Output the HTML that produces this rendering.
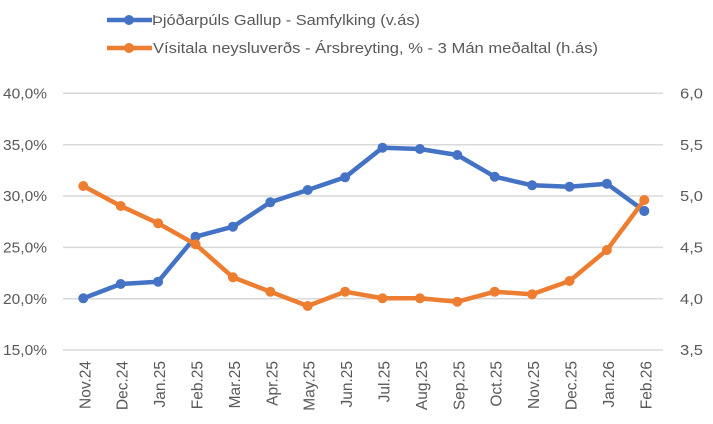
<!DOCTYPE html>
<html>
<head>
<meta charset="utf-8">
<style>
html,body{margin:0;padding:0;background:#fff;}
svg{display:block;}
text{font-family:"Liberation Sans",sans-serif;fill:#595959;}
</style>
</head>
<body>
<svg width="713" height="424" viewBox="0 0 713 424" xmlns="http://www.w3.org/2000/svg">
<rect width="713" height="424" fill="#fff"/>
<!-- legend -->
<line x1="107" y1="20" x2="152" y2="20" stroke="#4472C4" stroke-width="4.5"/>
<circle cx="129" cy="20" r="5" fill="#4472C4"/>
<text x="152" y="25" font-size="15" textLength="268" lengthAdjust="spacingAndGlyphs">Þjóðarpúls Gallup - Samfylking (v.ás)</text>
<line x1="107" y1="48" x2="152" y2="48" stroke="#ED7D31" stroke-width="4.5"/>
<circle cx="129" cy="48" r="5" fill="#ED7D31"/>
<text x="153" y="53" font-size="15" textLength="445" lengthAdjust="spacingAndGlyphs">Vísitala neysluverðs  - Ársbreyting, %  - 3 Mán meðaltal (h.ás)</text>

<!-- gridlines -->
<g stroke="#d9d9d9" stroke-width="1.5">
<line x1="63" y1="93.3" x2="663" y2="93.3"/>
<line x1="63" y1="144.7" x2="663" y2="144.7"/>
<line x1="63" y1="196" x2="663" y2="196"/>
<line x1="63" y1="247.4" x2="663" y2="247.4"/>
<line x1="63" y1="298.7" x2="663" y2="298.7"/>
<line x1="63" y1="350" x2="663" y2="350"/>
</g>

<!-- left axis labels -->
<g font-size="14.5">
<text x="3" y="98.5" textLength="44" lengthAdjust="spacingAndGlyphs">40,0%</text>
<text x="3" y="149.9" textLength="44" lengthAdjust="spacingAndGlyphs">35,0%</text>
<text x="3" y="201.2" textLength="44" lengthAdjust="spacingAndGlyphs">30,0%</text>
<text x="3" y="252.6" textLength="44" lengthAdjust="spacingAndGlyphs">25,0%</text>
<text x="3" y="303.9" textLength="44" lengthAdjust="spacingAndGlyphs">20,0%</text>
<text x="3" y="355.2" textLength="44" lengthAdjust="spacingAndGlyphs">15,0%</text>
</g>
<!-- right axis labels -->
<g font-size="14.5">
<text x="680" y="98.5" textLength="23" lengthAdjust="spacingAndGlyphs">6,0</text>
<text x="680" y="149.9" textLength="23" lengthAdjust="spacingAndGlyphs">5,5</text>
<text x="680" y="201.2" textLength="23" lengthAdjust="spacingAndGlyphs">5,0</text>
<text x="680" y="252.6" textLength="23" lengthAdjust="spacingAndGlyphs">4,5</text>
<text x="680" y="303.9" textLength="23" lengthAdjust="spacingAndGlyphs">4,0</text>
<text x="680" y="355.2" textLength="23" lengthAdjust="spacingAndGlyphs">3,5</text>
</g>

<!-- x labels -->
<g font-size="15.5" text-anchor="end">
<text transform="translate(90.3,361) rotate(-90)">Nov.24</text>
<text transform="translate(127.7,361) rotate(-90)">Dec.24</text>
<text transform="translate(165.1,361) rotate(-90)">Jan.25</text>
<text transform="translate(202.5,361) rotate(-90)">Feb.25</text>
<text transform="translate(239.9,361) rotate(-90)">Mar.25</text>
<text transform="translate(277.3,361) rotate(-90)">Apr.25</text>
<text transform="translate(314.7,361) rotate(-90)">May.25</text>
<text transform="translate(352.1,361) rotate(-90)">Jun.25</text>
<text transform="translate(389.5,361) rotate(-90)">Jul.25</text>
<text transform="translate(426.9,361) rotate(-90)">Aug.25</text>
<text transform="translate(464.3,361) rotate(-90)">Sep.25</text>
<text transform="translate(501.7,361) rotate(-90)">Oct.25</text>
<text transform="translate(539.1,361) rotate(-90)">Nov.25</text>
<text transform="translate(576.5,361) rotate(-90)">Dec.25</text>
<text transform="translate(613.9,361) rotate(-90)">Jan.26</text>
<text transform="translate(651.3,361) rotate(-90)">Feb.26</text>
</g>

<!-- blue series -->
<polyline fill="none" stroke="#4472C4" stroke-width="4.5" stroke-linejoin="round"
points="83.3,298.3 120.7,284 158.1,281.7 195.5,236.7 232.9,226.7 270.3,202.3 307.7,190 345.1,177.3 382.5,147.7 419.9,149 457.3,155 494.7,176.7 532.1,185.3 569.5,186.7 606.9,183.7 644.3,211"/>
<g fill="#4472C4">
<circle cx="83.3" cy="298.3" r="5"/><circle cx="120.7" cy="284" r="5"/><circle cx="158.1" cy="281.7" r="5"/><circle cx="195.5" cy="236.7" r="5"/>
<circle cx="232.9" cy="226.7" r="5"/><circle cx="270.3" cy="202.3" r="5"/><circle cx="307.7" cy="190" r="5"/><circle cx="345.1" cy="177.3" r="5"/>
<circle cx="382.5" cy="147.7" r="5"/><circle cx="419.9" cy="149" r="5"/><circle cx="457.3" cy="155" r="5"/><circle cx="494.7" cy="176.7" r="5"/>
<circle cx="532.1" cy="185.3" r="5"/><circle cx="569.5" cy="186.7" r="5"/><circle cx="606.9" cy="183.7" r="5"/><circle cx="644.3" cy="211" r="5"/>
</g>

<!-- orange series -->
<polyline fill="none" stroke="#ED7D31" stroke-width="4.5" stroke-linejoin="round"
points="83.3,186 120.7,206 158.1,223.3 195.5,244.3 232.9,277.3 270.3,291.7 307.7,306 345.1,291.7 382.5,298.3 419.9,298.3 457.3,301.7 494.7,291.7 532.1,294.3 569.5,281 606.9,250 644.3,200"/>
<g fill="#ED7D31">
<circle cx="83.3" cy="186" r="5"/><circle cx="120.7" cy="206" r="5"/><circle cx="158.1" cy="223.3" r="5"/><circle cx="195.5" cy="244.3" r="5"/>
<circle cx="232.9" cy="277.3" r="5"/><circle cx="270.3" cy="291.7" r="5"/><circle cx="307.7" cy="306" r="5"/><circle cx="345.1" cy="291.7" r="5"/>
<circle cx="382.5" cy="298.3" r="5"/><circle cx="419.9" cy="298.3" r="5"/><circle cx="457.3" cy="301.7" r="5"/><circle cx="494.7" cy="291.7" r="5"/>
<circle cx="532.1" cy="294.3" r="5"/><circle cx="569.5" cy="281" r="5"/><circle cx="606.9" cy="250" r="5"/><circle cx="644.3" cy="200" r="5"/>
</g>
<circle cx="644.3" cy="211" r="5" fill="#4472C4"/>
</svg>
</body>
</html>
